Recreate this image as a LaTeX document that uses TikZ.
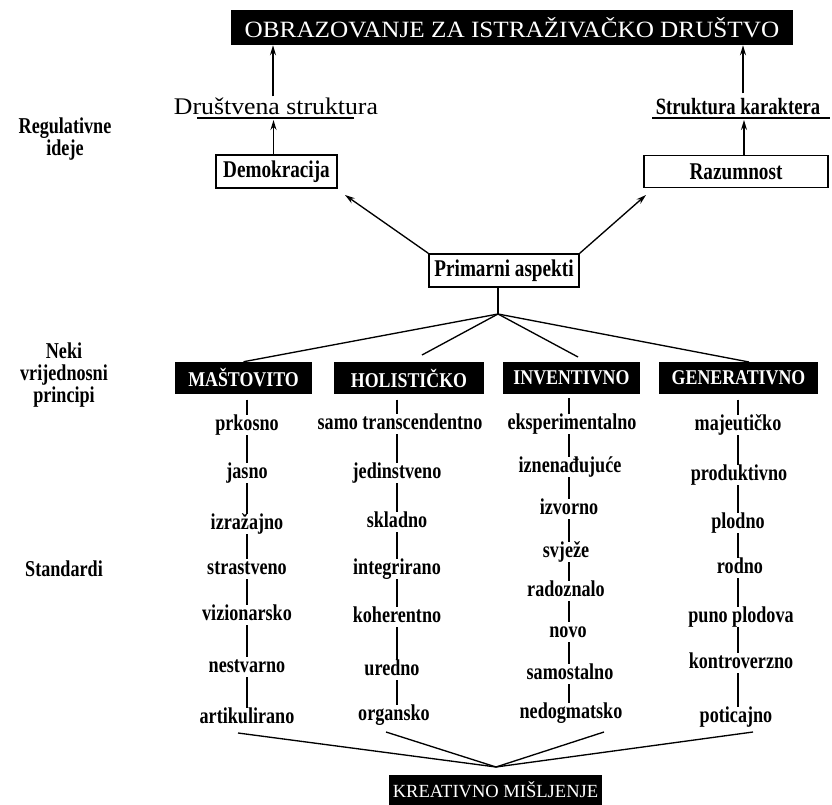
\documentclass[tikz,border=0pt]{standalone}
\usepackage{fontspec}
\setmainfont{Liberation Serif}
\newfontfamily\condf[FakeStretch=0.8]{Liberation Serif}
\newfontfamily\headf[FakeStretch=0.85]{Liberation Serif}
\newfontfamily\widef[FakeStretch=1.08]{Liberation Serif}
\usetikzlibrary{arrows.meta,calc}
\begin{document}
\begin{tikzpicture}[x=0.75pt,y=-0.75pt,
  conn/.style={line width=1pt, draw=black},
  arr/.style={conn,-{Stealth[length=7.5pt,width=4.5pt]}},
  item/.style={inner sep=0pt, font=\condf\bfseries\fontsize{17}{20}\selectfont, text height=11.5pt, text depth=3.7pt},
  sidelab/.style={inner sep=0pt, align=center, font=\condf\bfseries\fontsize{17}{16.5}\selectfont},
  wbox/.style={draw=black, line width=1.1pt, fill=white, inner sep=0pt, font=\condf\bfseries\fontsize{18}{20}\selectfont},
  bbox/.style={fill=black, text=white, inner sep=0pt, minimum height=24pt, font=\headf\bfseries\fontsize{15.75}{18}\selectfont},
  plain/.style={inner sep=0pt}
]
\useasboundingbox (0,0) rectangle (832,805);

% title
\node[fill=black, text=white, inner sep=0pt, minimum width=421.5pt, minimum height=26.25pt,
      font=\widef\fontsize{17.5}{20}\selectfont] (title) at (512,27.5) {OBRAZOVANJE ZA ISTRAŽIVAČKO DRUŠTVO};

% regulative ideas
\node[plain, font=\widef\fontsize{17.9}{20}\selectfont] (ds) at (276,106) {Društvena struktura};
\node[plain, font=\condf\bfseries\fontsize{17.5}{20}\selectfont] (sk) at (738,107) {Struktura karaktera};
\coordinate (u1a) at (197,118);
\coordinate (u1b) at (354,118);
\coordinate (u2a) at (652,118);
\coordinate (u2b) at (830,118);
\draw[conn] (u1a) -- (u1b);
\draw[conn] (u2a) -- (u2b);

\node[wbox, minimum width=90.75pt, minimum height=24.75pt] (dem) at (276.5,171.5) {Demokracija};
\node[wbox, minimum width=138pt, minimum height=24pt] (raz) at (736,171.5) {Razumnost};
\node[wbox, minimum width=112.5pt, minimum height=24.75pt] (prim) at (504,270.5) {Primarni aspekti};

\draw[arr] ($(dem.north)+(-3,0)$) -- ($(dem.north |- u1a)+(-3,2)$);
\draw[arr] ($(ds.north)+(-3,-1)$) -- ($(ds.north |- title.south)+(-3,0)$);
\draw[arr] ($(raz.north)+(8,0)$) -- ($(raz.north |- u2a)+(8,2)$);
\draw[arr] ($(sk.north)+(5,-5)$) -- ($(sk.north |- title.south)+(5,0)$);

\coordinate (ad) at (345,195);
\coordinate (ar) at (646,195);
\draw[arr] (prim.north west) -- (ad);
\draw[arr] (prim.north east) -- (ar);

% side labels
\node[sidelab] (reg) at (65,139) {Regulativne\\ideje};
\node[sidelab] (neki) at (64,375) {Neki\\vrijednosni\\principi};
\node[sidelab] (std) at (64,569) {Standardi};

% principles
\node[bbox, minimum width=102.75pt] (mas) at (243.5,378) {MAŠTOVITO};
\node[bbox, minimum width=112.5pt] (hol) at (409,378) {HOLISTIČKO};
\node[bbox, minimum width=102.75pt] (inv) at (571.5,378) {INVENTIVNO};
\node[bbox, minimum width=119.25pt] (gen) at (738.5,378) {GENERATIVNO};

\coordinate (junc) at (498,314);
\coordinate (h1) at (422,355);
\coordinate (i1) at (578,357);
\coordinate (g1) at (749,362);
\draw[conn] (prim.south -| junc) -- (junc);
\draw[conn] (junc) -- (mas.north);
\draw[conn] (junc) -- (h1);
\draw[conn] (junc) -- (i1);
\draw[conn] (junc) -- (g1);

% column 1
\node[item] (a1) at (247,425) {prkosno};
\node[item] (a2) at (247,473) {jasno};
\node[item] (a3) at (247,524) {izražajno};
\node[item] (a4) at (247,569) {strastveno};
\node[item] (a5) at (247,615) {vizionarsko};
\node[item] (a6) at (247,667) {nestvarno};
\node[item] (a7) at (247,718) {artikulirano};
% column 2
\node[item] (b1) at (400,424) {samo transcendentno};
\node[item] (b2) at (397,473) {jedinstveno};
\node[item] (b3) at (397,522) {skladno};
\node[item] (b4) at (397,569) {integrirano};
\node[item] (b5) at (397,617) {koherentno};
\node[item] (b6) at (392,670) {uredno};
\node[item] (b7) at (394,715) {organsko};
% column 3
\node[item] (c1) at (572,424) {eksperimentalno};
\node[item] (c2) at (570,467) {iznenađujuće};
\node[item] (c3) at (569,509) {izvorno};
\node[item] (c4) at (566,552) {svježe};
\node[item] (c5) at (566,591) {radoznalo};
\node[item] (c6) at (568,632) {novo};
\node[item] (c7) at (570,674) {samostalno};
\node[item] (c8) at (571,713) {nedogmatsko};
% column 4
\node[item] (d1) at (738,425) {majeutičko};
\node[item] (d2) at (739,475) {produktivno};
\node[item] (d3) at (738,523) {plodno};
\node[item] (d4) at (740,568) {rodno};
\node[item] (d5) at (741,617) {puno plodova};
\node[item] (d6) at (741,663) {kontroverzno};
\node[item] (d7) at (736,717) {poticajno};

% vertical connectors
\draw[conn, shorten <=4pt] (mas.south -| a1) -- (a1.north);
\draw[conn] (a1.south) -- (a2.north);
\draw[conn] (a2.south) -- (a3.north);
\draw[conn] (a3.south) -- (a4.north);
\draw[conn] (a4.south) -- (a5.north);
\draw[conn] (a5.south) -- (a6.north);
\draw[conn] (a6.south) -- (a7.north);

\draw[conn, shorten <=4pt] (hol.south -| b2) -- (b2 |- b1.north);
\draw[conn] (b2 |- b1.south) -- (b2.north);
\draw[conn] (b2.south) -- (b3.north);
\draw[conn] (b3.south) -- (b4.north);
\draw[conn] (b4.south) -- (b5.north);
\draw[conn] (b5.south) -- (b5 |- b6.north);
\draw[conn] (b5 |- b6.south) -- (b5 |- b7.north);

\draw[conn, shorten <=3pt] (inv.south -| c3) -- (c3 |- c1.north);
\draw[conn] (c3 |- c1.south) -- (c3 |- c2.north);
\draw[conn] (c3 |- c2.south) -- (c3.north);
\draw[conn] (c3.south) -- (c3 |- c4.north);
\draw[conn] (c3 |- c4.south) -- (c3 |- c5.north);
\draw[conn] (c3 |- c5.south) -- (c3 |- c6.north);
\draw[conn] (c3 |- c6.south) -- (c3 |- c7.north);
\draw[conn] (c3 |- c7.south) -- (c3 |- c8.north);

\draw[conn, shorten <=4pt] (gen.south -| d1) -- (d1.north);
\draw[conn] (d1.south) -- (d1 |- d2.north);
\draw[conn] (d1 |- d2.south) -- (d1 |- d3.north);
\draw[conn] (d1 |- d3.south) -- (d1 |- d4.north);
\draw[conn] (d1 |- d4.south) -- (d1 |- d5.north);
\draw[conn] (d1 |- d5.south) -- (d1 |- d6.north);
\draw[conn] (d1 |- d6.south) -- (d1 |- d7.north);

% creative thinking
\node[fill=black, text=white, inner sep=0pt, minimum width=159.75pt, minimum height=22.5pt,
      font=\fontsize{13.9}{16}\selectfont] (kre) at (495.5,790) {KREATIVNO MIŠLJENJE};
\coordinate (conv) at (496,767);
\coordinate (e1) at (238,733);
\coordinate (e2) at (386,732);
\coordinate (e3) at (604,732);
\coordinate (e4) at (753,732);
\draw[conn] (e1) -- (conv);
\draw[conn] (e2) -- (conv);
\draw[conn] (e3) -- (conv);
\draw[conn] (e4) -- (conv);
\end{tikzpicture}
\end{document}
